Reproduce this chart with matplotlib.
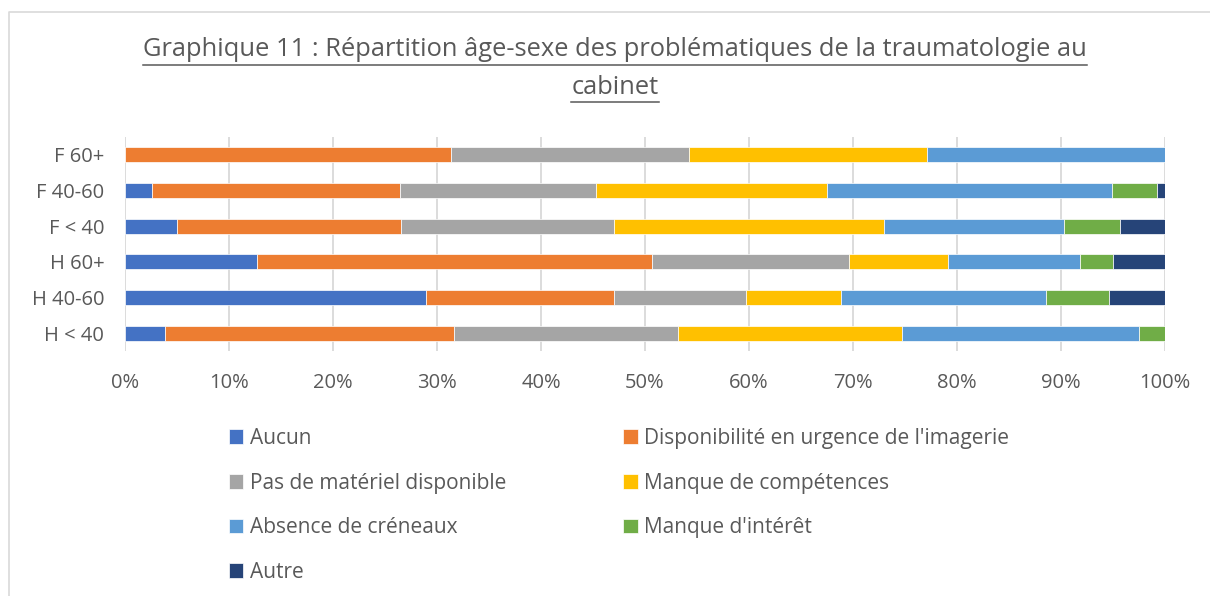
import matplotlib
matplotlib.use("Agg")
import matplotlib.pyplot as plt
from matplotlib.lines import Line2D
import numpy as np

plt.rcParams['font.family'] = ['Open Sans', 'DejaVu Sans']

categories = ["H < 40", "H 40-60", "H 60+", "F < 40", "F 40-60", "F 60+"]
series_names = ["Aucun", "Disponibilité en urgence de l'imagerie",
                "Pas de matériel disponible", "Manque de compétences",
                "Absence de créneaux", "Manque d'intérêt", "Autre"]
aucun        = [3.8, 28.9, 12.7, 5.0, 2.6, 0.0]
disponibilite = [27.8, 18.1, 38.0, 21.5, 23.8, 31.3]
pas_materiel = [21.6, 12.7, 19.0, 20.5, 18.9, 22.9]
competences  = [21.5, 9.1, 9.5, 26.0, 22.2, 22.9]
creneaux     = [22.8, 19.8, 12.7, 17.3, 27.4, 22.9]
interet      = [2.5, 6.0, 3.2, 5.4, 4.3, 0.0]
autre        = [0.0, 5.4, 5.0, 4.3, 0.8, 0.0]
colors = ["#4472C4", "#ED7D31", "#A5A5A5", "#FFC000", "#5B9BD5", "#70AD47", "#264478"]
x_ticks = [0, 10, 20, 30, 40, 50, 60, 70, 80, 90, 100]
x_tick_labels = ["0%", "10%", "20%", "30%", "40%", "50%", "60%", "70%", "80%", "90%", "100%"]
title_lines = ["Graphique 11 : Répartition âge-sexe des problématiques de la traumatologie au",
               "cabinet"]

data = np.array([aucun, disponibilite, pas_materiel, competences, creneaux, interet, autre], dtype=float)
# normalise each category to 100 %
data = data / data.sum(axis=0) * 100

W, H = 1210, 596
fig = plt.figure(figsize=(W / 100, H / 100), dpi=100)
fig.patch.set_facecolor("white")
ax = fig.add_axes([125 / W, 1 - 351 / H, 1040 / W, 214 / H])

text_color = "#595959"
y = np.arange(len(categories))
left = np.zeros(len(categories))
handles = []
for i, name in enumerate(series_names):
    b = ax.barh(y, data[i], left=left, height=0.42, color=colors[i], label=name,
                edgecolor="white", linewidth=0.5, zorder=3)
    handles.append(b)
    left += data[i]

ax.set_xlim(0, 100)
ax.set_ylim(-0.5, len(categories) - 0.5)
ax.set_xticks(x_ticks)
ax.set_xticklabels(x_tick_labels)
ax.set_yticks(y)
ax.set_yticklabels(categories)
ax.xaxis.grid(True, color="#D9D9D9", linewidth=1.3, zorder=0)
ax.set_axisbelow(True)
for s in ax.spines.values():
    s.set_visible(False)
ax.tick_params(axis="both", length=0, labelsize=14.5, labelcolor=text_color)
ax.tick_params(axis="x", pad=16)
ax.tick_params(axis="y", pad=15)

order = [0, 2, 4, 6, 1, 3, 5]
leg = fig.legend([handles[k] for k in order], [series_names[k] for k in order],
                 ncol=2, loc="upper left", bbox_to_anchor=(210 / W, 1 - 409 / H),
                 frameon=False, fontsize=15, handlelength=0.7, handleheight=0.7,
                 handletextpad=0.3, labelspacing=1.14, columnspacing=5.62,
                 labelcolor=text_color)

# Title with underline
t1 = fig.text(615 / W, 1 - 50 / H, title_lines[0], ha="center", va="center",
              fontsize=18.4, color=text_color)
t2 = fig.text(615 / W, 1 - 88 / H, title_lines[1], ha="center", va="center",
              fontsize=18.4, color=text_color)
fig.canvas.draw()
r = fig.canvas.get_renderer()
for t, uy in ((t1, 65), (t2, 102)):
    bb = t.get_window_extent(renderer=r)
    fig.add_artist(Line2D([bb.x0 / W, bb.x1 / W], [1 - uy / H, 1 - uy / H],
                          transform=fig.transFigure, color=text_color, linewidth=1.1))

# outer frame (partially visible)
fig.add_artist(Line2D([9 / W, 9 / W, 1.0], [0.0, 1 - 12 / H, 1 - 12 / H],
                      transform=fig.transFigure, color="#D9D9D9", linewidth=1.2))

fig.savefig("out.png", dpi=100, facecolor="white")
